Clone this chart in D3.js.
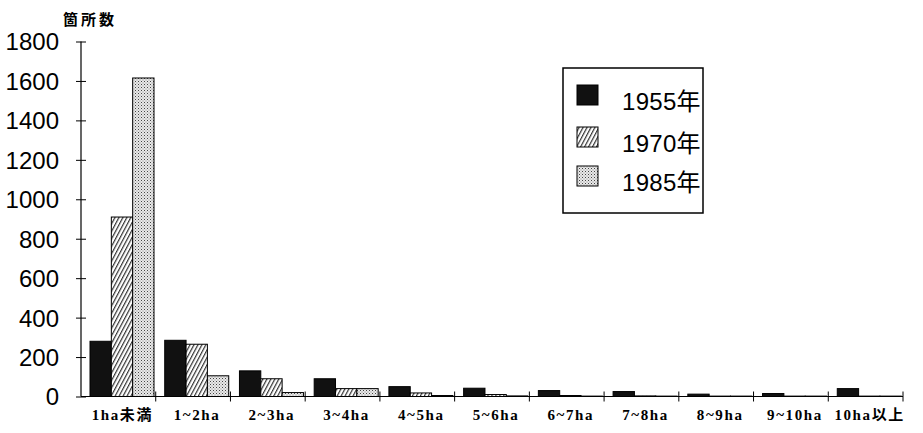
<!DOCTYPE html>
<html>
<head>
<meta charset="utf-8">
<script src="https://cdn.jsdelivr.net/npm/d3@7"></script>
<style>
  html, body { margin: 0; padding: 0; background: #fff; }
  svg { display: block; }
</style>
</head>
<body>
<svg id="chart" width="923" height="433"></svg>
<script>
// Size classes (farm area) and the number of sites in each year
const categories = ["1ha未満", "1~2ha", "2~3ha", "3~4ha", "4~5ha", "5~6ha", "6~7ha", "7~8ha", "8~9ha", "9~10ha", "10ha以上"];
const seriesNames = ["1955年", "1970年", "1985年"];
const values1955 = [280, 285, 130, 90, 50, 42, 30, 25, 12, 15, 40];
const values1970 = [910, 265, 90, 40, 18, 10, 5, 3, 2, 2, 2];
const values1985 = [1615, 105, 20, 40, 5, 3, 2, 2, 2, 2, 2];
const yTicks = [0, 200, 400, 600, 800, 1000, 1200, 1400, 1600, 1800];
const yTitle = "箇所数";

const svg = d3.select("#chart");
const plotLeft = 81, plotRight = 903, plotTop = 41.5, plotBottom = 396.5;

const x = d3.scaleBand().domain(categories).range([plotLeft, plotRight]).paddingInner(0).paddingOuter(0);
const xInner = d3.scaleBand().domain(seriesNames).range([9, 73]).padding(0);
const y = d3.scaleLinear().domain([0, 1800]).range([plotBottom, plotTop]);

// Fill patterns: solid black, diagonal hatch, fine stipple
const defs = svg.append("defs");
const hatch = defs.append("pattern").attr("id", "hatch").attr("patternUnits", "userSpaceOnUse")
  .attr("width", 3.5).attr("height", 4).attr("patternTransform", "rotate(28)");
hatch.append("rect").attr("width", 3.5).attr("height", 4).attr("fill", "#fff");
hatch.append("line").attr("x1", 0.6).attr("y1", 0).attr("x2", 0.6).attr("y2", 4)
  .attr("stroke", "#333").attr("stroke-width", 1.2);

const dots = defs.append("pattern").attr("id", "dots").attr("patternUnits", "userSpaceOnUse")
  .attr("width", 3).attr("height", 3);
dots.append("rect").attr("width", 3).attr("height", 3).attr("fill", "#e8e8e8");
dots.append("rect").attr("x", 0).attr("y", 0).attr("width", 1).attr("height", 1).attr("fill", "#444");
dots.append("rect").attr("x", 1.5).attr("y", 1.5).attr("width", 1).attr("height", 1).attr("fill", "#888");

const fills = ["#111", "url(#hatch)", "url(#dots)"];
const seriesValues = [values1955, values1970, values1985];

// Bars
seriesNames.forEach((name, si) => {
  svg.append("g").selectAll("rect")
    .data(categories.map((c, i) => ({ c, v: seriesValues[si][i] })))
    .join("rect")
    .attr("x", d => x(d.c) + xInner(name))
    .attr("width", xInner.bandwidth())
    .attr("y", d => y(d.v))
    .attr("height", d => plotBottom - y(d.v))
    .attr("fill", fills[si])
    .attr("stroke", "#000")
    .attr("stroke-width", 1);
});

// Y axis with ticks crossing the line
const yAxis = svg.append("g").attr("transform", `translate(${plotLeft},0)`)
  .call(d3.axisLeft(y).tickValues(yTicks).tickSize(5).tickPadding(17).tickFormat(d3.format("d")));
yAxis.select(".domain").attr("d", `M0,${plotTop}V${plotBottom}`).attr("stroke", "#000").attr("stroke-width", 1.2);
yAxis.selectAll(".tick line").attr("x1", -5).attr("x2", 5).attr("stroke", "#000");
yAxis.selectAll(".tick text")
  .attr("font-family", "'Liberation Sans', Arial, sans-serif")
  .attr("font-size", 24).attr("fill", "#000").attr("dy", "0.35em");

// X axis: boundary ticks between size classes
const boundaries = categories.map(c => x(c)).concat([plotRight]).slice(1);
const xAxis = svg.append("g");
xAxis.append("line").attr("x1", plotLeft).attr("x2", plotRight).attr("y1", plotBottom).attr("y2", plotBottom)
  .attr("stroke", "#000").attr("stroke-width", 1.2);
xAxis.selectAll("line.b").data(boundaries).join("line").attr("class", "b")
  .attr("x1", d => d).attr("x2", d => d).attr("y1", plotBottom - 5).attr("y2", plotBottom + 5)
  .attr("stroke", "#000").attr("stroke-width", 1);
xAxis.selectAll("text").data(categories).join("text")
  .attr("x", d => x(d) + x.bandwidth() / 2 + 4)
  .attr("y", 420)
  .attr("text-anchor", "middle")
  .attr("font-family", "'Liberation Serif', 'Times New Roman', 'Noto Sans CJK JP', serif")
  .attr("font-weight", "bold")
  .attr("font-size", 15)
  .attr("letter-spacing", 1.6)
  .text(d => d);

// Axis title
svg.append("text").attr("x", 90).attr("y", 25).attr("text-anchor", "middle")
  .attr("font-family", "'Noto Sans CJK JP', sans-serif").attr("font-weight", "bold")
  .attr("font-size", 15).attr("letter-spacing", 3).text(yTitle);

// Legend
const legend = svg.append("g");
legend.append("rect").attr("x", 563).attr("y", 68).attr("width", 140).attr("height", 145)
  .attr("fill", "#fff").attr("stroke", "#000").attr("stroke-width", 1.5);
const rowY = [85, 127, 166];
seriesNames.forEach((name, i) => {
  legend.append("rect").attr("x", 577).attr("y", rowY[i]).attr("width", 21).attr("height", 20)
    .attr("fill", fills[i]).attr("stroke", "#000").attr("stroke-width", 1);
  legend.append("text").attr("x", 622).attr("y", rowY[i] + 25)
    .attr("font-family", "'Liberation Sans', Arial, 'Noto Sans CJK JP', sans-serif")
    .attr("font-size", 24).attr("letter-spacing", 0.3).text(name);
});
</script>
</body>
</html>
